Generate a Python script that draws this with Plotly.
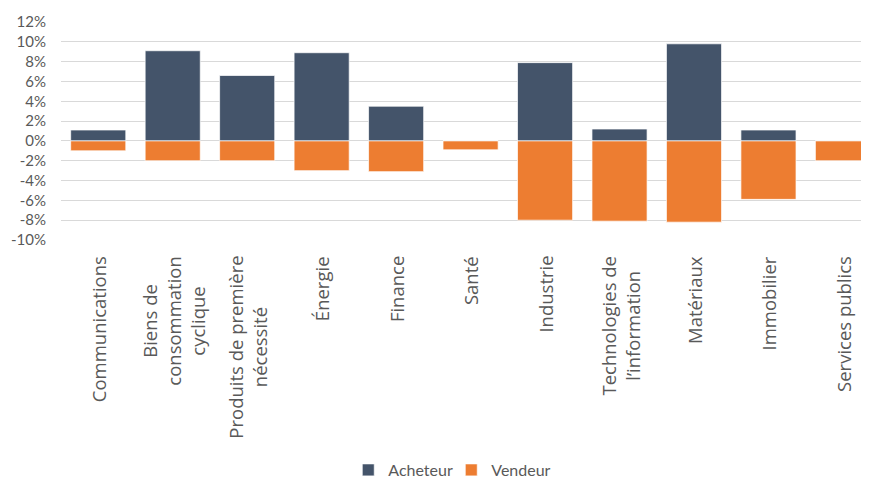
import plotly.graph_objects as go

categories = [
    "Communications",
    "Biens de<br>consommation<br>cyclique",
    "Produits de première<br>nécessité",
    "Énergie",
    "Finance",
    "Santé",
    "Industrie",
    "Technologies de<br>l’information",
    "Matériaux",
    "Immobilier",
    "Services publics",
]
acheteur = [1.1, 9.1, 6.6, 8.9, 3.5, 0.0, 7.9, 1.2, 9.8, 1.1, 0.0]
vendeur = [-1.0, -2.0, -2.0, -3.0, -3.1, -0.9, -8.0, -8.1, -8.2, -5.9, -2.0]
tick_vals = [-10, -8, -6, -4, -2, 0, 2, 4, 6, 8, 10, 12]
tick_text = [f"{v}%" for v in tick_vals]

fig = go.Figure()
fig.add_trace(go.Bar(
    x=categories, y=acheteur, name="Acheteur",
    marker=dict(color="#44546A", line=dict(color="rgba(255,255,255,0.7)", width=1)),
))
fig.add_trace(go.Bar(
    x=categories, y=vendeur, name="Vendeur",
    marker=dict(color="#ED7D31", line=dict(color="rgba(255,255,255,0.7)", width=1)),
))

# category labels (rotated, centred multi-line) placed on the x axis scale
for c in categories:
    fig.add_annotation(
        x=c, xref="x", y=0, yref="paper",
        text=c, textangle=-90, align="center",
        xanchor="center", yanchor="top", yshift=-14,
        showarrow=False,
        font=dict(family="Open Sans", size=18.5, color="#595959"),
    )

# the page body adds an 8px offset, so the figure is sized 8px smaller
fig.update_layout(
    width=861, height=472,
    barmode="relative",
    bargap=0.26,
    plot_bgcolor="white",
    paper_bgcolor="white",
    margin=dict(l=53, r=0, t=14, b=240, autoexpand=False),
    font=dict(family="Lato", size=15, color="#595959"),
    legend=dict(
        orientation="h", x=0.483, xanchor="center", xref="paper",
        y=-1.055, yanchor="middle",
        entrywidth=58, entrywidthmode="pixels",
        font=dict(family="Lato", size=16, color="#595959"),
    ),
    xaxis=dict(
        showticklabels=False,
        showgrid=False,
        ticks="",
        range=[-0.5, 10.35],
        automargin=False,
    ),
    yaxis=dict(
        range=[-10, 12],
        tickvals=tick_vals,
        ticktext=tick_text,
        showgrid=True,
        gridcolor="#D9D9D9",
        gridwidth=1,
        zeroline=True,
        zerolinecolor="#D9D9D9",
        zerolinewidth=1,
        tickfont=dict(family="Lato", size=15, color="#595959"),
        ticklabelstandoff=14,
        automargin=False,
    ),
)

fig.write_html("out.html")
